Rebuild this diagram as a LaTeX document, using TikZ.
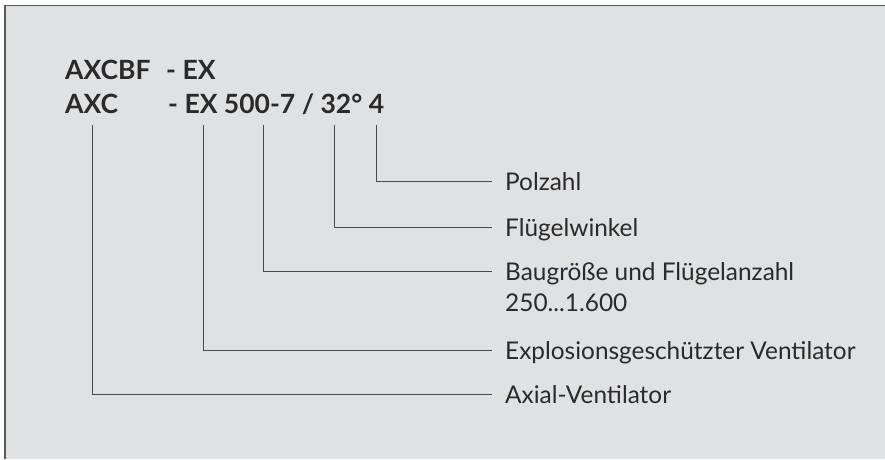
\documentclass[tikz,border=0pt]{standalone}
\usepackage{fontspec}
\setmainfont{Lato}
\definecolor{panelgray}{HTML}{E0E1E3}
\definecolor{ink}{HTML}{2B2A2A}
\begin{document}
\begin{tikzpicture}[x=1pt,y=-1pt,
  every node/.style={inner sep=0pt,text=ink},
  title/.style={anchor=base west,font=\bfseries\fontsize{26.5}{30}\selectfont},
  label/.style={anchor=base west,inner xsep=13.3pt,font=\fontsize{24.4}{31}\selectfont},
  conn/.style={draw=ink!85,line width=0.9pt}]
  \useasboundingbox (0,0) rectangle (885,459);
  \fill[panelgray] (5,5.5) rectangle (885,459);
  \draw[line width=1.6pt,gray!70!black] (5,459) -- (5,5.5) -- (885,5.5);
  % type code
  \node[title] (t1a) at (65,79) {AXCBF};
  \node[title] (t1b) at (166,79) {- EX};
  \node[title] (t2a) at (65,113) {AXC};
  \node[title] (t2b) at (168,113) {- EX 500-7 / 32° 4};
  % tap points under the code
  \coordinate (vax) at (92.3,125);
  \coordinate (vex) at (203.3,125);
  \coordinate (vbg) at (263.3,125);
  \coordinate (vfw) at (334.3,125);
  \coordinate (vpz) at (376.7,125);
  % labels
  \node[label] (pz) at (491.7,190) {Polzahl};
  \node[label] (fw) at (491.7,236) {Flügelwinkel};
  \node[label] (bg) at (491.7,280) {\vtop{\hbox{Baugröße und Flügelanzahl}\hbox{250...1.600}}};
  \node[label] (ex) at (491.7,359.5) {Explosionsgeschützter Ventilator};
  \node[label] (ax) at (491.7,403) {Axial-Ventilator};
  \foreach \v/\l in {vpz/pz,vfw/fw,vbg/bg,vex/ex,vax/ax}
    \draw[conn] (\v) |- ([yshift=9pt]\l.base west);
\end{tikzpicture}
\end{document}
